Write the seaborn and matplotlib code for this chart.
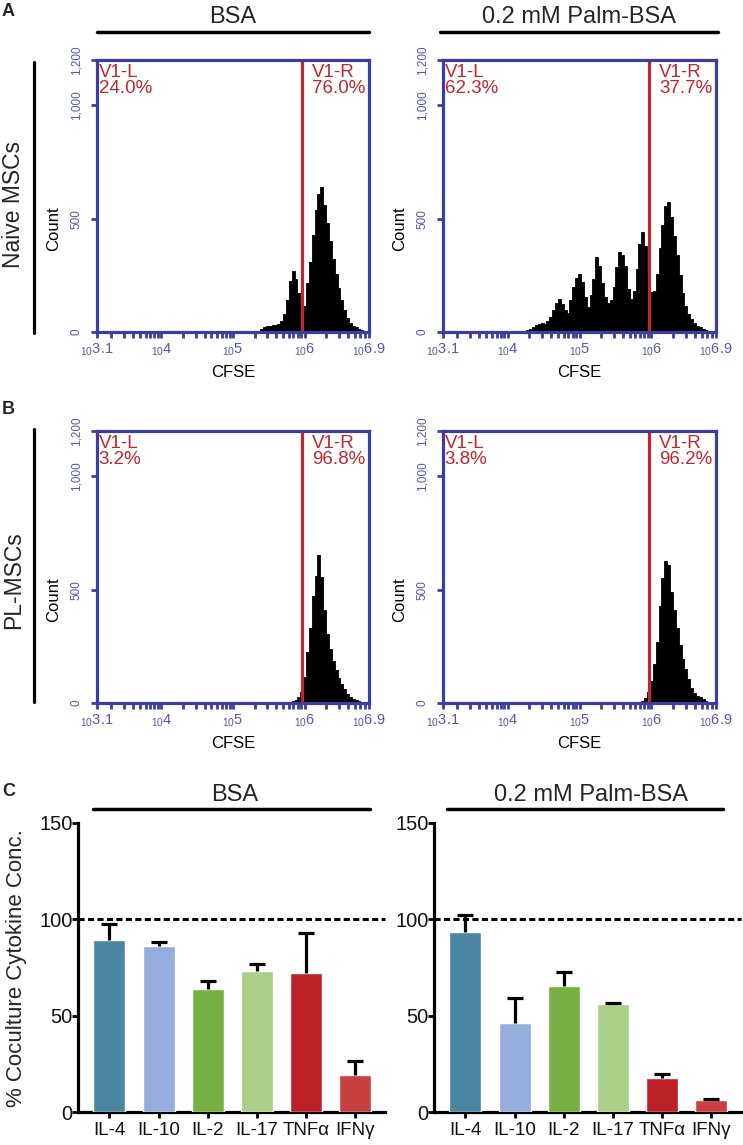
import numpy as np
import matplotlib
matplotlib.use("Agg")
import matplotlib.pyplot as plt
import seaborn as sns
from matplotlib.ticker import FixedLocator, FixedFormatter, LogLocator, NullFormatter
from matplotlib.transforms import blended_transform_factory, offset_copy

sns.set_theme(style="ticks")
plt.rcParams["font.family"] = ["Liberation Sans", "DejaVu Sans"]
plt.rcParams["mathtext.fontset"] = "custom"
plt.rcParams["mathtext.rm"] = "Liberation Sans"
plt.rcParams["mathtext.it"] = "Liberation Sans:italic"
plt.rcParams["mathtext.bf"] = "Liberation Sans:bold"

# ---------------- data ----------------
conditions = ["BSA", "0.2 mM Palm-BSA"]
cell_types = ["Naive MSCs", "PL-MSCs"]
panel_letters = ["A", "B", "C"]

gate_log = 5.97
x_tick_exps = [3.1, 4, 5, 6, 6.9]
x_tick_texts = ["3.1", "4", "5", "6", "6.9"]
count_ticks = [0, 500, 1000, 1200]
count_tick_labels = ["0", "500", "1,000", "1,200"]

naive_bsa_logx = [4.64, 5.08, 5.40, 5.44, 5.48, 5.52, 5.56, 5.60, 5.64, 5.68,
                  5.72, 5.76, 5.80, 5.84, 5.88, 5.92, 5.96, 6.00, 6.04, 6.08,
                  6.12, 6.16, 6.20, 6.24, 6.28, 6.32, 6.36, 6.40, 6.44, 6.48,
                  6.52, 6.56, 6.60, 6.64, 6.68, 6.72, 6.76, 6.80, 6.84]
naive_bsa_count = [5, 5, 15, 22, 26, 28, 30, 30, 35, 50,
                   80, 140, 225, 270, 235, 170, 100, 115, 215, 310,
                   430, 540, 610, 640, 560, 480, 400, 320, 255, 195,
                   140, 95, 60, 40, 28, 20, 15, 8, 4]

naive_palm_logx = [4.16, 4.20, 4.24, 4.28, 4.32, 4.36, 4.40, 4.44, 4.48, 4.52,
                   4.56, 4.60, 4.64, 4.68, 4.72, 4.76, 4.80, 4.84, 4.88, 4.92,
                   4.96, 5.00, 5.04, 5.08, 5.12, 5.16, 5.20, 5.24, 5.28, 5.32,
                   5.36, 5.40, 5.44, 5.48, 5.52, 5.56, 5.60, 5.64, 5.68, 5.72,
                   5.76, 5.80, 5.84, 5.88, 5.92, 5.96, 6.00, 6.04, 6.08, 6.12,
                   6.16, 6.20, 6.24, 6.28, 6.32, 6.36, 6.40, 6.44, 6.48, 6.52,
                   6.56, 6.60, 6.64, 6.68, 6.72, 6.76, 6.80, 6.84]
naive_palm_count = [4, 5, 6, 8, 12, 22, 32, 36, 38, 37,
                    48, 65, 95, 130, 147, 125, 96, 82, 140, 200,
                    240, 255, 220, 155, 110, 165, 235, 330, 290, 215,
                    155, 128, 140, 200, 287, 355, 340, 290, 190, 145,
                    180, 280, 390, 442, 380, 258, 175, 180, 255, 370,
                    470, 555, 574, 508, 425, 340, 250, 170, 115, 80,
                    58, 40, 28, 20, 13, 8, 4, 2]

pl_bsa_logx = [4.60, 5.80, 5.84, 5.88, 5.92, 5.96, 6.00, 6.04, 6.08, 6.12,
               6.16, 6.20, 6.24, 6.28, 6.32, 6.36, 6.40, 6.44, 6.48, 6.52,
               6.56, 6.60, 6.64, 6.68, 6.72, 6.76, 6.80, 6.84]
pl_bsa_count = [4, 4, 8, 14, 25, 50, 115, 225, 330, 470,
                560, 655, 555, 410, 305, 240, 185, 145, 110, 86,
                60, 38, 26, 18, 12, 9, 6, 3]

pl_palm_logx = [4.56, 4.64, 4.72, 4.80, 5.84, 5.88, 5.92, 5.96, 6.00, 6.04,
                6.08, 6.12, 6.16, 6.20, 6.24, 6.28, 6.32, 6.36, 6.40, 6.44,
                6.48, 6.52, 6.56, 6.60, 6.64, 6.68, 6.72, 6.76, 6.80, 6.84]
pl_palm_count = [4, 4, 4, 3, 5, 10, 22, 48, 95, 170,
                 270, 430, 550, 625, 610, 490, 410, 330, 255, 195,
                 150, 108, 66, 44, 32, 25, 18, 10, 6, 3]

gate_left_pct = [[24.0, 62.3], [3.2, 3.8]]
gate_right_pct = [[76.0, 37.7], [96.8, 96.2]]

cytokines = ["IL-4", "IL-10", "IL-2", "IL-17", "TNFα", "IFNγ"]
bsa_mean = [89.3, 86.3, 64.0, 73.0, 72.0, 19.2]
bsa_sd = [8.2, 1.8, 3.8, 4.0, 21.0, 7.3]
palm_mean = [93.5, 46.0, 65.5, 55.8, 17.8, 6.4]
palm_sd = [9.0, 13.0, 7.0, 0.7, 2.0, 0.4]
reference_level = 100
bar_y_ticks = [0, 50, 100, 150]

bar_colors = ["#4d86a3", "#94addd", "#77b042", "#a9cf88", "#bb2127", "#c8403f"]

# ---------------- style ----------------
W, H = 743, 1145
BLUE = "#3b3e9e"
BLUE_LBL = "#5557b3"
RED = "#c0272d"

fig = plt.figure(figsize=(W / 100, H / 100), dpi=100)


def rect(l, t, r, b):
    return [l / W, 1 - b / H, (r - l) / W, (b - t) / H]


def fx(px):
    return px / W


def fy(py):
    return 1 - py / H


hist_data = [[(naive_bsa_logx, naive_bsa_count), (naive_palm_logx, naive_palm_count)],
             [(pl_bsa_logx, pl_bsa_count), (pl_palm_logx, pl_palm_count)]]
hist_rects = [[(97, 60, 369, 332), (443, 60, 716, 332)],
              [(97, 431, 369, 703), (443, 431, 716, 703)]]

for r in range(2):
    for c in range(2):
        ax = fig.add_axes(rect(*hist_rects[r][c]))
        logx, cnt = hist_data[r][c]
        sns.histplot(x=10 ** np.asarray(logx), weights=cnt, binwidth=0.04,
                     binrange=(3.1, 6.9), log_scale=True, element="step", fill=True,
                     color="black", edgecolor="black", linewidth=0.6, alpha=1, ax=ax)
        ax.set_xlim(10 ** 3.1, 10 ** 6.9)
        ax.set_ylim(0, 1200)
        ax.axvline(10 ** gate_log, color=RED, lw=2.3, zorder=5)
        for s in ax.spines.values():
            s.set_visible(True)
            s.set_color(BLUE)
            s.set_linewidth(2.3)
            s.set_zorder(6)
        ax.xaxis.set_major_locator(FixedLocator([10 ** e for e in x_tick_exps]))
        ax.xaxis.set_major_formatter(FixedFormatter(
            [r"${}_{10}\mathregular{%s}$" % t for t in x_tick_texts]))
        ax.xaxis.set_minor_locator(LogLocator(base=10, subs=np.arange(2, 10), numticks=20))
        ax.xaxis.set_minor_formatter(NullFormatter())
        ax.tick_params(axis="x", which="both", direction="out", length=4.2, width=2.0,
                       color=BLUE, labelcolor=BLUE_LBL, labelsize=10.5, pad=3,
                       bottom=True, top=False)
        ax.yaxis.set_major_locator(FixedLocator(count_ticks))
        ax.yaxis.set_major_formatter(FixedFormatter(count_tick_labels))
        ax.yaxis.set_minor_locator(FixedLocator([]))
        ax.tick_params(axis="y", which="major", direction="out", length=4.2, width=2.0,
                       color=BLUE, labelcolor=BLUE_LBL, labelsize=8.5, pad=6,
                       left=True, right=False, labelrotation=90)
        for lbl in ax.get_yticklabels():
            lbl.set_va("center")
        ax.set_ylabel("")
        ax.set_xlabel("")
        ax.text(0.5, -0.15, "CFSE", transform=ax.transAxes, ha="center", va="center",
                fontsize=12, color="black")
        ax.text(-0.16, 0.38, "Count", transform=ax.transAxes, ha="center", va="center",
                rotation=90, fontsize=12, color="black")
        ax.text(0.006, 0.985, "V1-L\n%.1f%%" % gate_left_pct[r][c], transform=ax.transAxes,
                ha="left", va="top", fontsize=13.5, color=RED, linespacing=0.88)
        trans = blended_transform_factory(ax.transData, ax.transAxes)
        trans = offset_copy(trans, fig=fig, x=7, y=0, units="points")
        ax.text(10 ** gate_log, 0.985, "V1-R\n%.1f%%" % gate_right_pct[r][c], transform=trans,
                ha="left", va="top", fontsize=13.5, color=RED, linespacing=0.88)

# header titles for A
for c, (xl, xr) in enumerate([(97, 369), (440, 718)]):
    fig.text(fx((xl + xr) / 2), fy(17), conditions[c], ha="center", va="center", fontsize=17)
    fig.add_artist(plt.Line2D([fx(xl), fx(xr)], [fy(32), fy(32)], color="black", lw=2.5))

# row labels and bars
for r, ((t, b), yc) in enumerate(zip([(62, 333), (429, 702)], [205, 580])):
    fig.text(fx(14), fy(yc), cell_types[r], rotation=90,
             ha="center", va="center", fontsize=16.5)
    fig.add_artist(plt.Line2D([fx(34), fx(34)], [fy(t), fy(b)], color="black", lw=2.3))

# panel letters
for letter, py in zip(panel_letters, [11, 409, 791]):
    fig.text(fx(2), fy(py), letter, ha="left", va="center", fontsize=13, fontweight="bold")

# ---------------- bar charts ----------------
bar_sets = [(bsa_mean, bsa_sd), (palm_mean, palm_sd)]
bar_rects = [(78, 823, 385, 1112), (434, 823, 741, 1112)]
for c in range(2):
    ax = fig.add_axes(rect(*bar_rects[c]))
    means, sds = bar_sets[c]
    sns.barplot(x=cytokines, y=means, hue=cytokines, palette=bar_colors, legend=False,
                width=0.65, saturation=1, errorbar=None, ax=ax, zorder=3)
    eb = ax.errorbar(np.arange(len(cytokines)), means, yerr=[np.zeros(len(sds)), sds],
                     fmt="none", ecolor="black", elinewidth=2.3, capsize=6, capthick=2.3,
                     zorder=4)
    caplines = eb[1]
    if len(caplines) > 0:
        caplines[0].set_visible(False)
    ax.axhline(reference_level, color="black", lw=2.2, ls=(0, (2.0, 1.1)), zorder=5,
               clip_on=False)
    ax.set_xlim(-0.64, 5.6)
    ax.set_ylim(0, 150)
    ax.set_yticks(bar_y_ticks)
    sns.despine(ax=ax)
    for s in ["left", "bottom"]:
        ax.spines[s].set_linewidth(2.3)
        ax.spines[s].set_color("black")
    ax.tick_params(axis="y", direction="out", length=4, width=2.0, color="black",
                   labelsize=14.5, pad=0, left=True, labelcolor="#111111")
    ax.tick_params(axis="x", direction="out", length=4.5, width=2.0, color="black",
                   labelsize=13.5, pad=3, bottom=True, labelcolor="#111111")
    ax.set_xlabel("")
    ax.set_ylabel("")
    xl, xr = (93, 370) if c == 0 else (447, 723)
    fig.text(fx((xl + xr) / 2 + (3 if c == 0 else 6)), fy(795), conditions[c],
             ha="center", va="center", fontsize=17)
    fig.add_artist(plt.Line2D([fx(xl), fx(xr)], [fy(809), fy(809)], color="black", lw=2.5))

fig.text(fx(17), fy(968), "% Coculture Cytokine Conc.", rotation=90, ha="center",
         va="center", fontsize=16)

fig.savefig("out.png", dpi=100)
